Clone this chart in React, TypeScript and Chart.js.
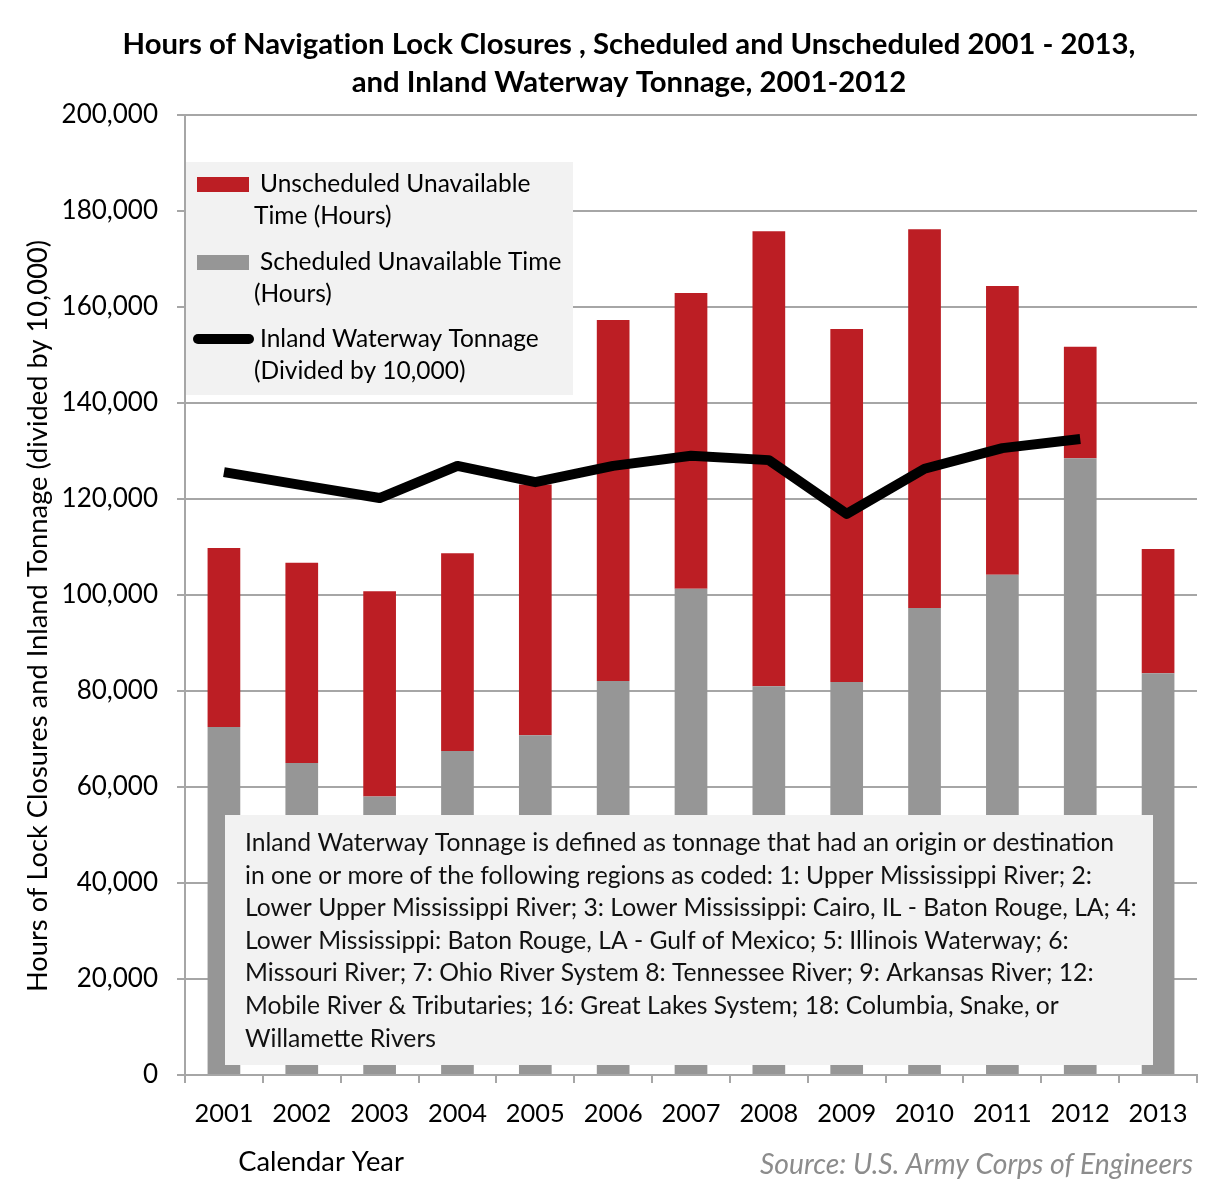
import React, { useEffect, useRef } from "react";
import { Chart, registerables } from "chart.js";

Chart.register(...registerables);

const years = ["2001", "2002", "2003", "2004", "2005", "2006", "2007", "2008", "2009", "2010", "2011", "2012", "2013"];
const scheduledHours = [72500, 65000, 58000, 67500, 70800, 82100, 101300, 81000, 81900, 97300, 104200, 128500, 83700];
const unscheduledHours = [37300, 41700, 42800, 41200, 52200, 75200, 61600, 94800, 73500, 78900, 60200, 23200, 25900];
const tonnage = [125600, 122900, 120200, 126900, 123500, 126900, 129000, 128100, 116900, 126300, 130600, 132500, null];

const titleLines = [
  "Hours of Navigation Lock Closures , Scheduled and Unscheduled 2001 - 2013,",
  "and Inland Waterway Tonnage, 2001-2012",
];
const yTitle = "Hours of Lock Closures and Inland Tonnage (divided by 10,000)";
const xTitle = "Calendar Year";
const sourceText = "Source: U.S. Army Corps of Engineers";
const legendItems = [
  { kind: "box", color: "#bc1e24", lines: ["Unscheduled Unavailable", "Time (Hours)"] },
  { kind: "box", color: "#969696", lines: ["Scheduled Unavailable Time", "(Hours)"] },
  { kind: "line", color: "#000000", lines: ["Inland Waterway Tonnage", "(Divided by 10,000)"] },
];
const noteLines = [
  "Inland Waterway Tonnage is defined as tonnage that had an origin or destination",
  "in one or more of the following regions as coded: 1: Upper Mississippi River; 2:",
  "Lower Upper Mississippi River; 3: Lower Mississippi: Cairo, IL - Baton Rouge, LA; 4:",
  "Lower Mississippi: Baton Rouge, LA - Gulf of Mexico; 5: Illinois Waterway; 6:",
  "Missouri River; 7: Ohio River System 8: Tennessee River; 9: Arkansas River; 12:",
  "Mobile River & Tributaries; 16: Great Lakes System; 18: Columbia, Snake, or",
  "Willamette Rivers",
];

const FONT = "Lato, 'Open Sans', sans-serif";

const overlayPlugin = {
  id: "overlay",
  afterDatasetsDraw(chart: any) {
    const ctx = chart.ctx as CanvasRenderingContext2D;
    ctx.save();
    // legend box
    ctx.fillStyle = "#f2f2f2";
    ctx.fillRect(186, 162, 387, 233);
    ctx.textBaseline = "middle";
    ctx.textAlign = "left";
    ctx.font = `24.5px ${FONT}`;
    const ys = [184, 262, 339];
    legendItems.forEach((it, i) => {
      const y = ys[i];
      if (it.kind === "box") {
        ctx.fillStyle = it.color;
        ctx.fillRect(197, y - 7, 52, 15);
      } else {
        ctx.strokeStyle = it.color;
        ctx.lineWidth = 10;
        ctx.lineCap = "round";
        ctx.beginPath();
        ctx.moveTo(198, y);
        ctx.lineTo(249, y);
        ctx.stroke();
      }
      ctx.fillStyle = "#000";
      ctx.fillText(it.lines[0], 260, y);
      ctx.fillText(it.lines[1], 254, y + 32);
    });
    // note box
    ctx.fillStyle = "#f2f2f2";
    ctx.fillRect(225, 815, 928, 250);
    ctx.fillStyle = "#111";
    ctx.font = `24.7px ${FONT}`;
    noteLines.forEach((l, i) => {
      ctx.fillText(l, 245, 843 + i * 32.6);
    });
    ctx.restore();
  },
  afterDraw(chart: any) {
    const ctx = chart.ctx as CanvasRenderingContext2D;
    ctx.save();
    ctx.textBaseline = "middle";
    ctx.textAlign = "center";
    ctx.fillStyle = "#000";
    ctx.font = `bold 29.3px ${FONT}`;
    try { (ctx as any).letterSpacing = "0.01px"; } catch (e) {}
    ctx.fillText(titleLines[0], 629, 45);
    ctx.fillText(titleLines[1], 629, 83);
    try { (ctx as any).letterSpacing = "0px"; } catch (e) {}
    ctx.font = `27.3px ${FONT}`;
    ctx.fillText(xTitle, 321, 1162);
    ctx.save();
    ctx.translate(38, 616);
    ctx.rotate(-Math.PI / 2);
    ctx.fillText(yTitle, 0, 0);
    ctx.restore();
    ctx.textAlign = "right";
    ctx.fillStyle = "#8c8c8c";
    ctx.font = `italic 28.3px ${FONT}`;
    ctx.fillText(sourceText, 1193, 1165);
    ctx.restore();
  },
};

export default function App() {
  const ref = useRef<HTMLCanvasElement | null>(null);
  useEffect(() => {
    document.body.style.margin = "0";
    const canvas = ref.current!;
    const chart = new Chart(canvas, {
      type: "bar",
      data: {
        labels: years,
        datasets: [
          {
            type: "line",
            label: "Inland Waterway Tonnage (Divided by 10,000)",
            data: tonnage as any,
            borderColor: "#000",
            backgroundColor: "#000",
            borderWidth: 10,
            pointRadius: 0,
            pointHoverRadius: 0,
            tension: 0,
            borderJoinStyle: "round",
            stack: "line",
            order: 0,
          } as any,
          {
            type: "bar",
            label: "Scheduled Unavailable Time (Hours)",
            data: scheduledHours,
            backgroundColor: "#969696",
            stack: "bars",
            order: 1,
            barPercentage: 0.42,
            categoryPercentage: 1,
          },
          {
            type: "bar",
            label: "Unscheduled Unavailable Time (Hours)",
            data: unscheduledHours,
            backgroundColor: "#bc1e24",
            stack: "bars",
            order: 1,
            barPercentage: 0.42,
            categoryPercentage: 1,
          },
        ],
      },
      options: {
        responsive: false,
        animation: false,
        devicePixelRatio: 1,
        layout: { padding: { top: 115, left: 0, right: 15, bottom: 0 } },
        plugins: { legend: { display: false }, title: { display: false }, tooltip: { enabled: false } },
        scales: {
          x: {
            stacked: true,
            offset: true,
            grid: { display: true, drawOnChartArea: false, drawTicks: true, tickLength: 8, color: "#a6a6a6", lineWidth: 2, offset: true },
            border: { display: true, color: "#a6a6a6", width: 2 },
            ticks: { color: "#000", font: { family: FONT, size: 25.4 }, padding: 16, maxRotation: 0, autoSkip: false },
            afterFit: (s: any) => { s.height = 121; },
          },
          y: {
            stacked: true,
            min: 0,
            max: 200000,
            grid: { color: "#a6a6a6", lineWidth: 2, tickLength: 8 },
            border: { display: true, color: "#a6a6a6", width: 2 },
            ticks: {
              stepSize: 20000,
              color: "#000",
              padding: 19,
              font: { family: FONT, size: 26 },
              callback: (v: any) => Number(v).toLocaleString("en-US"),
            },
            afterFit: (s: any) => { s.width = 185; },
          },
        },
      },
      plugins: [overlayPlugin],
    });
    return () => chart.destroy();
  }, []);
  return (
    <div style={{ width: 1212, height: 1196, position: "relative", background: "#fff" }}>
      <canvas ref={ref} width={1212} height={1196} style={{ display: "block" }} />
    </div>
  );
}
